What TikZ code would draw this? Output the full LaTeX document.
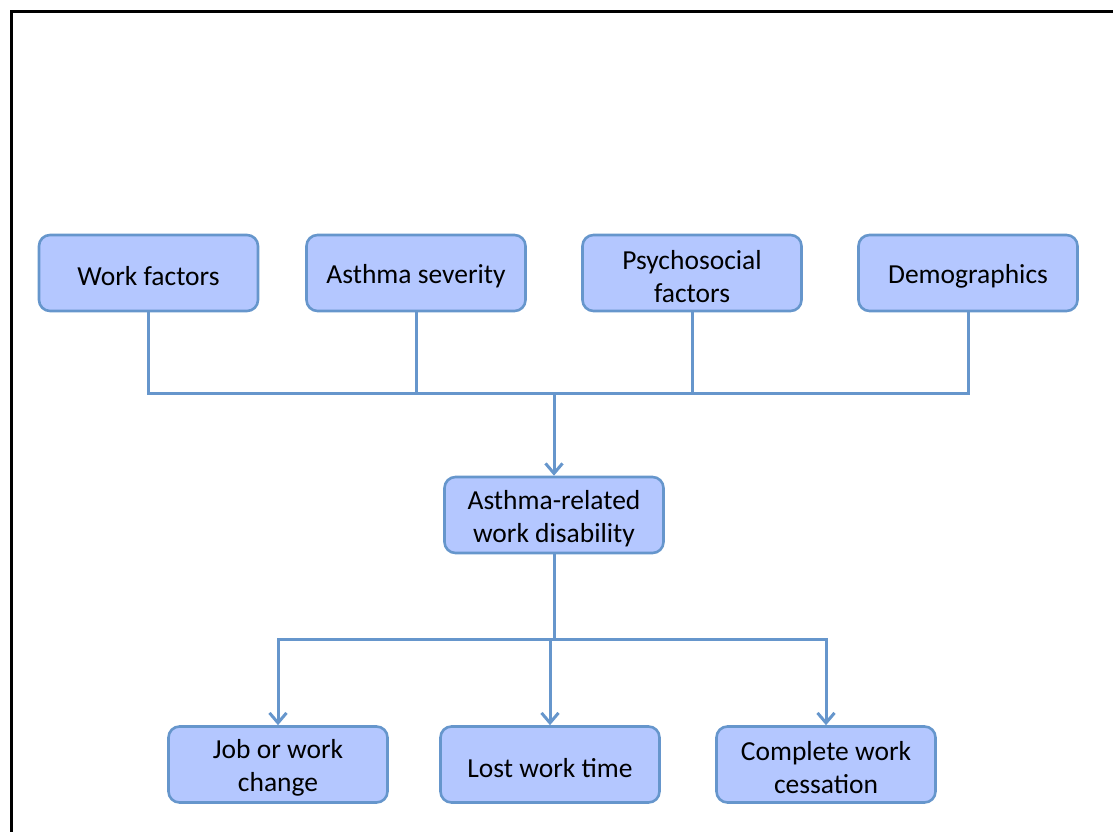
\documentclass[tikz,border=0pt]{standalone}
\usepackage{fontspec}
\setmainfont{Carlito}
\usetikzlibrary{arrows.meta}
\definecolor{boxfill}{RGB}{180,199,255}
\definecolor{boxline}{RGB}{102,150,204}
\tikzset{
  factor/.style={draw=boxline, fill=boxfill, line width=2.6pt, rounded corners=11pt,
    minimum width=219pt, minimum height=76pt, inner sep=0pt,
    label={[align=center, font=\fontsize{27.5}{33}\selectfont, yshift=-3.5pt]center:#1}},
  link/.style={draw=boxline, line width=3pt},
  flow/.style={link, -{Straight Barb[length=10pt,width=17pt,line width=3pt]}}
}
\begin{document}
\begin{tikzpicture}[x=1pt,y=-1pt]
\useasboundingbox (0,0) rectangle (1113,832);
% outer frame, running off the right and bottom edges
\begin{scope}
\clip (0,0) rectangle (1113,832);
\draw[line width=3pt] (11.5,11.5) rectangle (1130,850);
\end{scope}

% influencing factors
\node[factor={Work factors}]              (work) at (148.5,273) {};
\node[factor={Asthma severity}]           (sev)  at (416,273)   {};
\node[factor={Psychosocial\\factors}]     (psy)  at (692,273)   {};
\node[factor={Demographics}]              (demo) at (968,273)   {};

% outcome of interest
\node[factor={Asthma-related\\work disability}] (dis) at (554,515) {};

% consequences
\node[factor={Job or work\\change}]       (job)  at (278,764.5) {};
\node[factor={Lost work time}]            (lost) at (550,764.5) {};
\node[factor={Complete work\\cessation}]  (stop) at (826,764.5) {};

% junction points
\coordinate (top) at (554,393);
\coordinate (mid) at (554,639);

% collecting line above the central node
\draw[link] (work.south) |- (top);
\draw[link] (sev.south) |- (top);
\draw[link] (psy.south) |- (top);
\draw[link] (demo.south) |- (top);
\draw[flow] (top) -- (dis.north);

% distributing line below the central node
\draw[link] (dis.south) -- (mid);
\draw[flow] (mid) -| (job.north);
\draw[flow] (mid) -| (stop.north);
\draw[flow] (lost.north |- mid) -- (lost.north);
\end{tikzpicture}
\end{document}
